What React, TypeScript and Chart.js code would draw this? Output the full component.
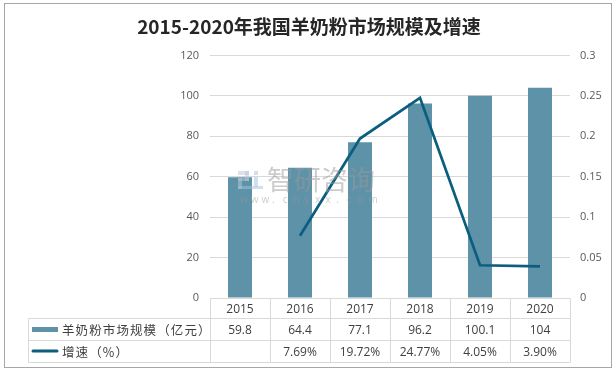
import React, { useEffect, useRef } from "react";
import { Chart, registerables } from "chart.js";

Chart.register(...registerables);

const chartTitle = "2015-2020年我国羊奶粉市场规模及增速";
const categories = ["2015", "2016", "2017", "2018", "2019", "2020"];
const marketSize = [59.8, 64.4, 77.1, 96.2, 100.1, 104];
const growthRate = [null, 0.0769, 0.1972, 0.2477, 0.0405, 0.039];
const sizeLabels = ["59.8", "64.4", "77.1", "96.2", "100.1", "104"];
const rateLabels = ["", "7.69%", "19.72%", "24.77%", "4.05%", "3.90%"];
const seriesNames = ["羊奶粉市场规模（亿元）", "增速（%）"];

const BAR_COLOR = "#5e92a9";
const LINE_COLOR = "#0b5e7e";
const GRID = "#d9d9d9";
const CJK = '"Noto Sans CJK SC", "Noto Sans", sans-serif';
const NUM = '"Open Sans", "Noto Sans", sans-serif';

const decorPlugin = {
  id: "decor",
  afterDatasetsDraw(chart: any) {
    const ctx = chart.ctx;
    ctx.save();
    ctx.globalAlpha = 0.5;
    // logo
    ctx.fillStyle = "#b9c6d6";
    ctx.fillRect(238, 171, 11, 4);
    ctx.fillRect(245, 171, 4, 10);
    ctx.fillRect(238, 178, 11, 3);
    ctx.fillRect(238, 178, 4, 11);
    ctx.fillStyle = "#9fc3e3";
    ctx.fillRect(238, 186, 25, 3);
    ctx.fillRect(254, 171, 4, 4);
    ctx.fillRect(254, 177, 4, 10);
    ctx.fillStyle = "#999999";
    ctx.font = `27px ${CJK}`;
    ctx.textBaseline = "middle";
    ctx.textAlign = "left";
    ctx.fillText("智研咨询", 267, 180);
    ctx.font = `10px ${NUM}`;
    const w = "www.chyxx.com";
    let x = 240;
    for (const ch of w) {
      ctx.fillText(ch, x, 200);
      x += 10.7;
    }
    ctx.restore();
  },
  afterDraw(chart: any) {
    const ctx = chart.ctx;
    const xs = chart.scales.x;
    const area = chart.chartArea;
    ctx.save();
    // outer border
    ctx.strokeStyle = "#a6a6a6";
    ctx.lineWidth = 1;
    ctx.strokeRect(4.5, 3.5, 607, 364);
    // title
    ctx.fillStyle = "#262626";
    ctx.font = `bold 19px ${CJK}`;
    ctx.textAlign = "center";
    ctx.textBaseline = "middle";
    ctx.fillText(chartTitle, 309, 27);

    // table
    const half = (xs.getPixelForValue(1) - xs.getPixelForValue(0)) / 2;
    const left = xs.getPixelForValue(0) - half;
    const right = xs.getPixelForValue(categories.length - 1) + half;
    const top = Math.round(area.bottom) + 0.5;
    const r1 = 318.5;
    const r2 = 340.5;
    const bottom = 362.5;
    const tableLeft = 28.5;
    ctx.strokeStyle = GRID;
    ctx.beginPath();
    ctx.moveTo(left, top);
    ctx.lineTo(right, top);
    for (const y of [r1, r2, bottom]) {
      ctx.moveTo(tableLeft, y);
      ctx.lineTo(right, y);
    }
    ctx.moveTo(tableLeft, r1);
    ctx.lineTo(tableLeft, bottom);
    for (let i = 0; i <= categories.length; i++) {
      const x = Math.round(left + i * half * 2) + 0.5;
      ctx.moveTo(x, top);
      ctx.lineTo(x, bottom);
    }
    ctx.stroke();

    ctx.fillStyle = "#404040";
    ctx.font = `12px ${NUM}`;
    ctx.textAlign = "center";
    categories.forEach((c, i) => {
      const cx = xs.getPixelForValue(i);
      ctx.fillText(c, cx, (top + r1) / 2 + 1);
      ctx.fillText(sizeLabels[i], cx, (r1 + r2) / 2 + 1);
      if (rateLabels[i]) ctx.fillText(rateLabels[i], cx, (r2 + bottom) / 2 + 1);
    });

    // legend keys
    ctx.fillStyle = BAR_COLOR;
    ctx.fillRect(32, 327, 26, 5);
    ctx.strokeStyle = LINE_COLOR;
    ctx.lineWidth = 3;
    ctx.lineCap = "round";
    ctx.beginPath();
    ctx.moveTo(33, 351);
    ctx.lineTo(57, 351);
    ctx.stroke();
    ctx.fillStyle = "#404040";
    ctx.font = `12.5px ${CJK}`;
    ctx.textAlign = "left";
    (ctx as any).letterSpacing = "1.1px";
    ctx.fillText(seriesNames[0], 62, (r1 + r2) / 2 + 0.5);
    ctx.fillText(seriesNames[1], 62, (r2 + bottom) / 2 + 0.5);
    (ctx as any).letterSpacing = "0px";
    ctx.restore();
  },
};

export default function App() {
  const ref = useRef<HTMLCanvasElement | null>(null);
  useEffect(() => {
    document.body.style.margin = "0";
    const canvas = ref.current;
    if (!canvas) return;
    const chart = new Chart(canvas, {
      type: "bar",
      data: {
        labels: categories,
        datasets: [
          {
            type: "line",
            label: seriesNames[1],
            data: growthRate as any,
            yAxisID: "y1",
            borderColor: LINE_COLOR,
            backgroundColor: LINE_COLOR,
            borderWidth: 2.75,
            pointRadius: 0,
            tension: 0,
            order: 0,
          } as any,
          {
            type: "bar",
            label: seriesNames[0],
            data: marketSize,
            yAxisID: "y",
            backgroundColor: BAR_COLOR,
            barPercentage: 0.4,
            categoryPercentage: 1,
            order: 1,
          },
        ],
      },
      options: {
        responsive: false,
        animation: false,
        layout: { padding: { left: 0, right: 0, top: 55.5, bottom: 75 } },
        plugins: {
          legend: { display: false },
          title: { display: false },
          tooltip: { enabled: false },
        },
        scales: {
          x: { display: false },
          y: {
            position: "left",
            min: 0,
            max: 120,
            ticks: {
              stepSize: 20,
              padding: 11,
              color: "#595959",
              font: { size: 11, family: NUM },
            },
            grid: { color: GRID, drawTicks: false },
            border: { display: false },
            afterFit: (s: any) => {
              s.width = 210;
            },
          },
          y1: {
            position: "right",
            min: 0,
            max: 0.3,
            ticks: {
              stepSize: 0.05,
              padding: 10,
              color: "#595959",
              font: { size: 11, family: NUM },
              callback: (v: any) => String(Number(Number(v).toFixed(2))),
            },
            grid: { display: false, drawTicks: false },
            border: { display: false },
            afterFit: (s: any) => {
              s.width = 46;
            },
          },
        },
      },
      plugins: [decorPlugin],
    });
    return () => chart.destroy();
  }, []);
  return <canvas ref={ref} width={616} height={373} style={{ display: "block" }} />;
}
